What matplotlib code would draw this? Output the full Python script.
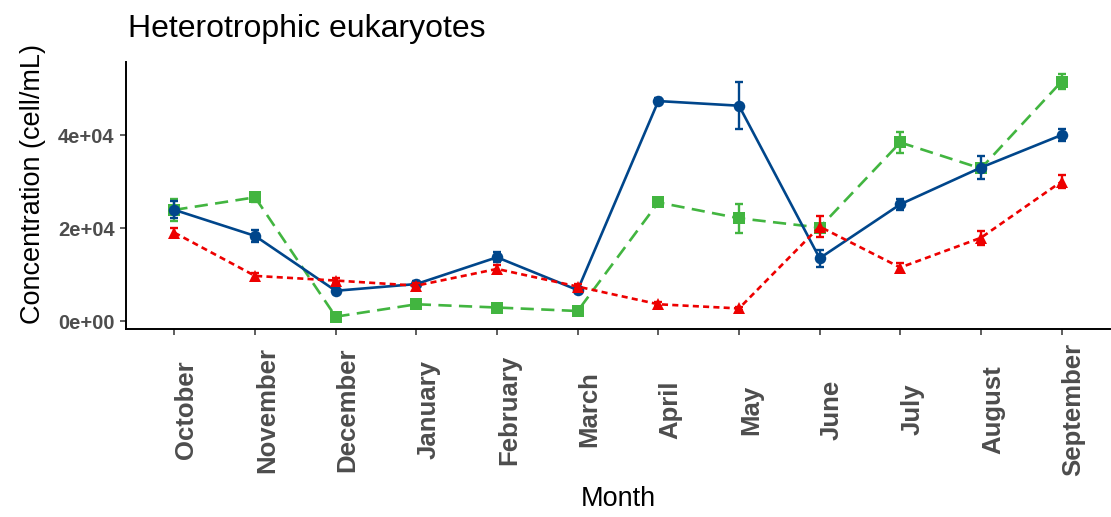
import matplotlib
matplotlib.use("Agg")
import matplotlib.pyplot as plt
import numpy as np

months = ["October", "November", "December", "January", "February", "March",
          "April", "May", "June", "July", "August", "September"]

blue_vals = [23900, 18300, 6500, 7950, 13700, 6650, 47300, 46300, 13500, 25100, 33000, 40000]
blue_err = [1800, 1300, 600, 600, 1100, 600, 600, 5100, 1800, 1200, 2500, 1300]
green_vals = [23900, 26600, 930, 3600, 2900, 2150, 25500, 22100, 20100, 38400, 32800, 51500]
green_err = [2300, 1000, 400, 400, 400, 400, 800, 3100, 600, 2200, 800, 1600]
red_vals = [19000, 9700, 8700, 7600, 11200, 7400, 3600, 2700, 20300, 11500, 17900, 30000]
red_err = [900, 600, 500, 500, 800, 500, 400, 400, 2300, 1000, 1500, 1500]

yticks = [0, 20000, 40000]
ytick_labels = ["0e+00", "2e+04", "4e+04"]

BLUE = "#00468B"
RED = "#ED0000"
GREEN = "#42B540"

plt.rcParams['font.family'] = ['Liberation Sans', 'DejaVu Sans']

W, H = 1111, 517
fig = plt.figure(figsize=(W / 100, H / 100), dpi=100)
ax = fig.add_axes([126 / W, 1 - 329 / H, 984 / W, 267 / H])

x = np.arange(len(months))

def draw(vals, err, color, ls, marker, ms, z):
    ax.errorbar(x, vals, yerr=err, fmt='none', ecolor=color, elinewidth=1.7,
                capsize=3, capthick=1.7, zorder=z)
    ax.plot(x, vals, color=color, linestyle=ls, linewidth=1.9, zorder=z + 0.1)
    ax.plot(x, vals, linestyle='none', marker=marker, markersize=ms,
            color=color, markeredgewidth=0, zorder=z + 0.2)

draw(green_vals, green_err, GREEN, (0, (5, 2.8)), 's', 8.3, 2)
draw(blue_vals, blue_err, BLUE, '-', 'o', 8.3, 3)
draw(red_vals, red_err, RED, (0, (2.3, 1.6)), '^', 9.3, 4)

ax.set_xlim(-0.6, len(months) - 1 + 0.6)
ax.set_ylim(-1720, 55700)

for s in ['top', 'right']:
    ax.spines[s].set_visible(False)
for s in ['left', 'bottom']:
    ax.spines[s].set_linewidth(1.4)
    ax.spines[s].set_color('black')

ax.set_yticks(yticks)
ax.set_yticklabels(ytick_labels, fontsize=14.5, fontweight='bold', color='#4D4D4D')
ax.set_xticks(x)
ax.set_xticklabels(months, fontsize=18.5, fontweight='bold', color='#4D4D4D',
                   rotation=90, va='center', ha='left')
ax.tick_params(axis='x', length=4, width=1.1, color='#333333', pad=54)
ax.tick_params(axis='y', length=4, width=1.1, color='#333333', pad=4.3)

fig.text(128 / W, 1 - 37 / H, "Heterotrophic eukaryotes", fontsize=23,
         ha='left', va='baseline', color='black')
fig.text(618 / W, 1 - 499 / H, "Month", fontsize=19.5, ha='center', va='center')
fig.text(33 / W, 1 - 184 / H, "Concentration (cell/mL)", fontsize=19.5,
         rotation=90, ha='center', va='center')

fig.savefig("out.png", dpi=100)
